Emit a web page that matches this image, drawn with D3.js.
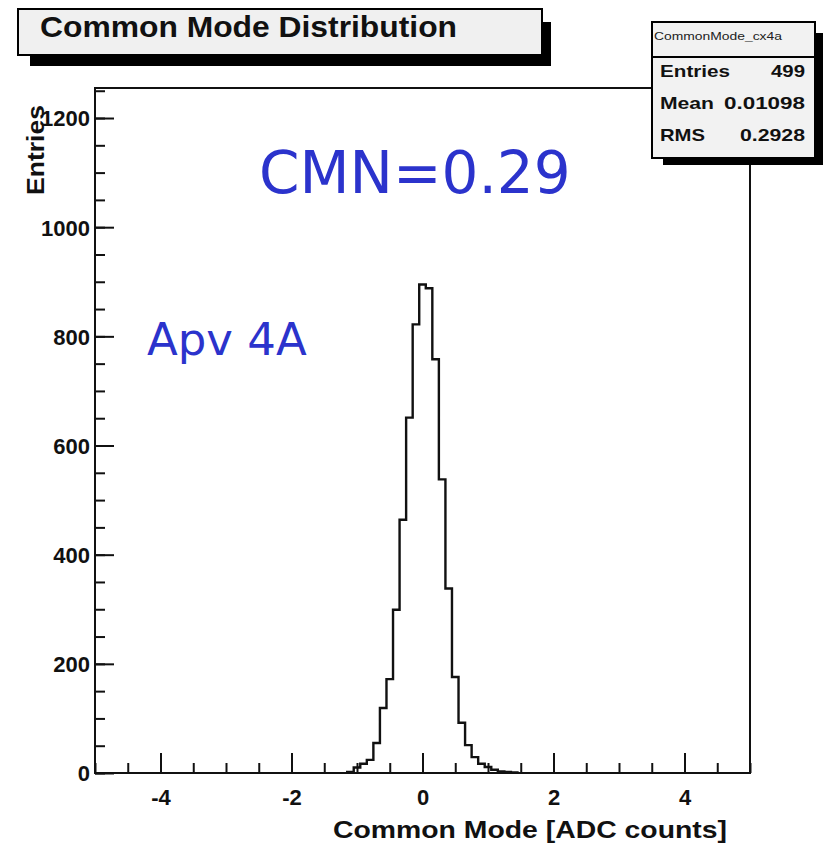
<!DOCTYPE html>
<html>
<head>
<meta charset="utf-8">
<script src="https://cdn.jsdelivr.net/npm/d3@7"></script>
<style>
  html, body { margin: 0; padding: 0; background: #ffffff; }
  svg { display: block; }
</style>
</head>
<body>
<script>
// ---- data ----
const binCenters = [-1.1,-1.0,-0.9,-0.8,-0.7,-0.6,-0.5,-0.4,-0.3,-0.2,-0.1,0.0,0.1,0.2,0.3,0.4,0.5,0.6,0.7,0.8,0.9,1.0,1.1,1.2,1.3,1.4];
const counts     = [2,10,17,24,55,119,172,299,464,651,822,895,888,758,538,338,176,92,51,29,17,11,6,3,2,1];
const binWidth = 0.1;
const xDomain = [-5, 5];
const yDomain = [0, 1255];
const xMajorTicks = [-4, -2, 0, 2, 4];
const yMajorTicks = [0, 200, 400, 600, 800, 1000, 1200];
const statsLabels = ["Entries", "Mean", "RMS"];
const statsValues = ["499", "0.01098", "0.2928"];
const histName = "CommonMode_cx4a";
const titleText = "Common Mode Distribution";
const xTitle = "Common Mode [ADC counts]";
const yTitle = "Entries";
const notes = ["CMN=0.29", "Apv 4A"];

const W = 828, H = 844;
const frame = {left: 95, right: 750, top: 88, bottom: 773};
const svg = d3.select("body").append("svg").attr("width", W).attr("height", H);

const x = d3.scaleLinear().domain(xDomain).range([frame.left, frame.right]);
const y = d3.scaleLinear().domain(yDomain).range([frame.bottom, frame.top]);

const FONT = "'Liberation Sans', Arial, Helvetica, sans-serif";

// frame background
svg.append("rect").attr("x", frame.left).attr("y", frame.top)
  .attr("width", frame.right - frame.left).attr("height", frame.bottom - frame.top)
  .attr("fill", "#ffffff");

// histogram step path
const pts = [];
pts.push([x(binCenters[0] - binWidth/2), y(0)]);
binCenters.forEach((c, i) => {
  pts.push([x(c - binWidth/2), y(counts[i])]);
  pts.push([x(c + binWidth/2), y(counts[i])]);
});
pts.push([x(binCenters[binCenters.length-1] + binWidth/2), y(0)]);
svg.append("path").attr("d", d3.line()(pts))
  .attr("fill", "none").attr("stroke", "#111").attr("stroke-width", 2.4)
  .attr("stroke-linejoin", "miter");

// axes (ticks inward, ROOT style)
const xMinor = d3.range(-5, 5.001, 0.5);
const yMinor = d3.range(0, 1251, 50);
const fmt = d => String(d);

const gx = svg.append("g").attr("transform", `translate(0,${frame.bottom})`);
gx.call(d3.axisBottom(x).tickValues(xMinor).tickSizeInner(-10).tickSizeOuter(0).tickFormat(""));
const gx2 = svg.append("g").attr("transform", `translate(0,${frame.bottom})`);
gx2.call(d3.axisBottom(x).tickValues(xMajorTicks).tickSizeInner(-20).tickSizeOuter(0).tickPadding(16)
  .tickFormat(fmt));

const gy = svg.append("g").attr("transform", `translate(${frame.left},0)`);
gy.call(d3.axisLeft(y).tickValues(yMinor).tickSizeInner(-10).tickSizeOuter(0).tickFormat(""));
const gy2 = svg.append("g").attr("transform", `translate(${frame.left},0)`);
gy2.call(d3.axisLeft(y).tickValues(yMajorTicks).tickSizeInner(-19).tickSizeOuter(0).tickPadding(5)
  .tickFormat(fmt));

[gx, gx2, gy, gy2].forEach(g => {
  g.select(".domain").remove();
  g.selectAll(".tick line").attr("stroke", "#111").attr("stroke-width", 2);
  g.selectAll("text").attr("font-family", FONT).attr("font-weight", "bold")
    .attr("font-size", 22).attr("fill", "#111");
});
gx2.selectAll("text").attr("dy", "0.71em");
gy2.selectAll("text").attr("dy", "0.36em");

// frame border
svg.append("rect").attr("x", frame.left).attr("y", frame.top)
  .attr("width", frame.right - frame.left).attr("height", frame.bottom - frame.top)
  .attr("fill", "none").attr("stroke", "#111").attr("stroke-width", 2);

// axis titles
svg.append("text").attr("x", 727).attr("y", 838).attr("text-anchor", "end")
  .attr("font-family", FONT).attr("font-weight", "bold").attr("font-size", 24)
  .attr("fill", "#111").attr("textLength", 394).attr("lengthAdjust", "spacingAndGlyphs").text(xTitle);
svg.append("text").attr("transform", "translate(44,105) rotate(-90)").attr("text-anchor", "end")
  .attr("font-family", FONT).attr("font-weight", "bold").attr("font-size", 23)
  .attr("fill", "#111").attr("textLength", 90).attr("lengthAdjust", "spacingAndGlyphs").text(yTitle);

// title box with shadow
svg.append("rect").attr("x", 30).attr("y", 22).attr("width", 521).attr("height", 44).attr("fill", "#000");
svg.append("rect").attr("x", 18).attr("y", 9).attr("width", 524).attr("height", 46)
  .attr("fill", "#f0f0f0").attr("stroke", "#000").attr("stroke-width", 2);
svg.append("text").attr("x", 40).attr("y", 37).attr("font-family", FONT).attr("font-weight", "bold")
  .attr("font-size", 30).attr("fill", "#111").attr("textLength", 417).attr("lengthAdjust", "spacingAndGlyphs")
  .text(titleText);

// stats box with shadow
svg.append("rect").attr("x", 663).attr("y", 33).attr("width", 160).attr("height", 132).attr("fill", "#000");
svg.append("rect").attr("x", 652).attr("y", 22).attr("width", 163).attr("height", 136)
  .attr("fill", "#f2f2f2").attr("stroke", "#000").attr("stroke-width", 2);
svg.append("line").attr("x1", 652).attr("x2", 815).attr("y1", 57).attr("y2", 57)
  .attr("stroke", "#000").attr("stroke-width", 2);
svg.append("text").attr("x", 654).attr("y", 40).attr("font-family", FONT)
  .attr("font-size", 11).attr("fill", "#222").attr("textLength", 128).attr("lengthAdjust", "spacingAndGlyphs")
  .text(histName);
const labLen = [70, 54, 45];
const valLen = [34, 81, 65];
statsLabels.forEach((lab, i) => {
  const yy = 77 + i * 32;
  svg.append("text").attr("x", 660).attr("y", yy).attr("font-family", FONT).attr("font-weight", "bold")
    .attr("font-size", 17).attr("fill", "#111")
    .attr("textLength", labLen[i]).attr("lengthAdjust", "spacingAndGlyphs").text(lab);
  svg.append("text").attr("x", 805).attr("y", yy).attr("text-anchor", "end").attr("font-family", FONT)
    .attr("font-weight", "bold").attr("font-size", 17).attr("fill", "#111")
    .attr("textLength", valLen[i]).attr("lengthAdjust", "spacingAndGlyphs").text(statsValues[i]);
});

// blue annotations
svg.append("text").attr("x", 259).attr("y", 193).attr("font-family", "'DejaVu Sans', sans-serif")
  .attr("font-size", 58).attr("fill", "#2b33cc").text(notes[0]);
svg.append("text").attr("x", 147).attr("y", 355).attr("font-family", "'DejaVu Sans', sans-serif")
  .attr("font-size", 45).attr("fill", "#2b33cc").text(notes[1]);
</script>
</body>
</html>
